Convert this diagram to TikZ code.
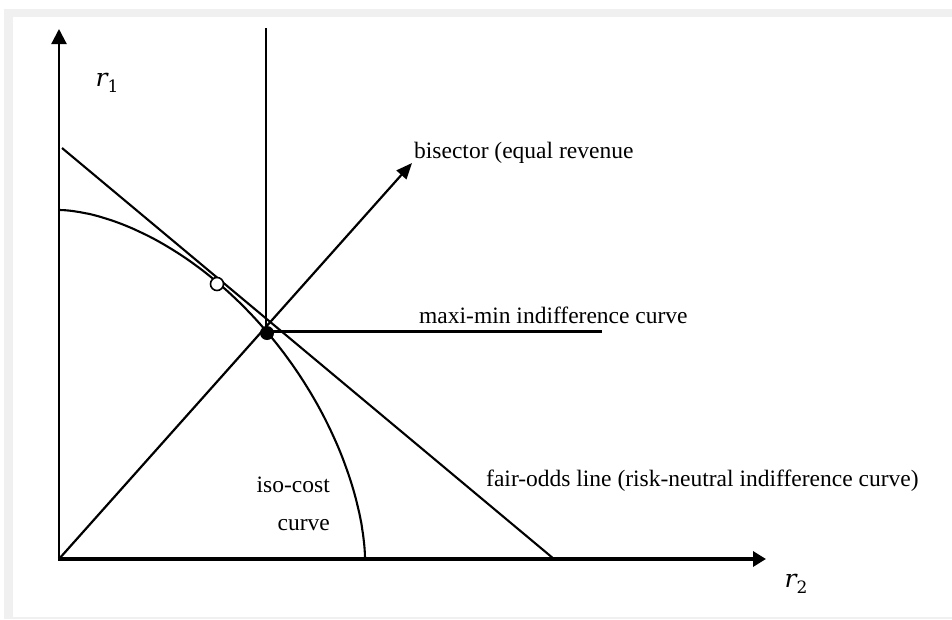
\documentclass[tikz,border=0pt]{standalone}
\usepackage{fontspec}
\setmainfont{Liberation Serif}
\newfontfamily\rfont{DejaVu Serif}
\usetikzlibrary{arrows.meta}
\definecolor{framegray}{HTML}{F0F0F0}
\newcommand{\rvar}[1]{{\fontsize{25}{28}\selectfont\rfont\itshape r}\raisebox{-6pt}{\fontsize{17}{20}\selectfont\rfont #1}}
\begin{document}
\begin{tikzpicture}[x=1pt,y=-1pt,
  lbl/.style={inner sep=0pt,font=\fontsize{23.5}{28}\selectfont},
  mathlbl/.style={inner sep=0pt},
  thin line/.style={line width=2.1pt},
  axisy/.style={line width=2.2pt,-{Triangle[length=15pt,width=15pt]}},
  axisx/.style={line width=3.4pt,-{Triangle[length=13pt,width=15pt]}},
  bisectarrow/.style={line width=2.2pt,-{Triangle[length=16pt,width=13pt]}}]
\useasboundingbox (0,0) rectangle (952,619);
\fill[white] (0,0) rectangle (952,619);
\fill[framegray] (4,9) rectangle (952,619);
\fill[white] (12.5,17) rectangle (952,617);
% coordinates
\coordinate (O) at (59,559);
\coordinate (ytop) at (59,29);
\coordinate (xtip) at (766,559);
\coordinate (vtop) at (266,28);
\coordinate (vbot) at (266,326);
\coordinate (btip) at (412,163);
\coordinate (mstart) at (266,331);
\coordinate (mend) at (602,331);
\coordinate (fa) at (62,148);
\coordinate (fb) at (554,559);
% iso-cost curve (superellipse)
\draw[thin line,line join=round]
  plot[domain=0:90,samples=90,smooth]
  ({59+306*pow(abs(cos(\x))+0.000001,1.1765)},{559-349*pow(abs(sin(\x))+0.000001,1.1765)});
% lines
\draw[thin line] (fa) -- (fb);
\draw[thin line] (vtop) -- (vbot);
\draw[line width=3pt] (mstart) -- (mend);
\draw[bisectarrow] (O) -- (btip);
% axes
\draw[axisy] (O) -- (ytop);
\draw[axisx] (57.9,559) -- (xtip);
% points
\node[draw,fill=white,circle,line width=1.6pt,minimum size=13pt,inner sep=0pt] (open) at (217,284) {};
\node[fill=black,circle,minimum size=14pt,inner sep=0pt] (dot) at (267,333) {};
% labels
\node[mathlbl] (r1) at (107,83) {\rvar{1}};
\node[mathlbl] (r2) at (796,584) {\rvar{2}};
\node[lbl,anchor=west] (bis) at (414,153) {bisector (equal revenue};
\node[lbl,anchor=west] (mm) at (419,315) {maxi-min indifference curve};
\node[lbl,anchor=west] (fo) at (486,481) {fair-odds line (risk-neutral indifference curve)};
\node[lbl,anchor=east] (iso) at (330,485) {iso-cost};
\node[lbl,anchor=east] (cv) at (330,525) {curve};
\end{tikzpicture}
\end{document}
